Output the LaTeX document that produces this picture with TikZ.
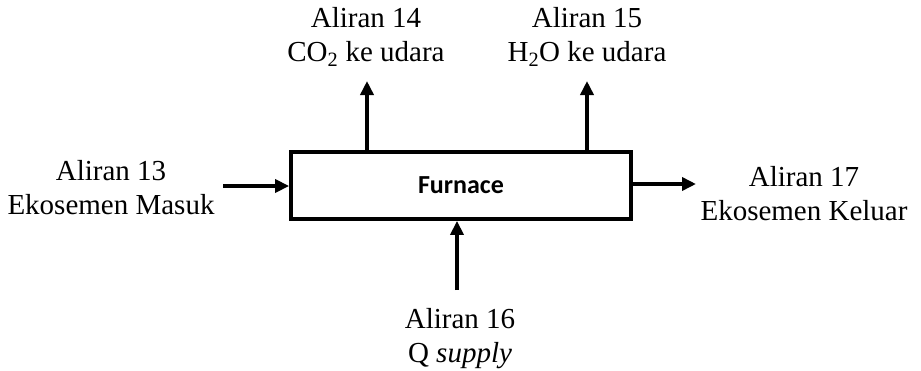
\documentclass[tikz,border=0pt]{standalone}
\usepackage{fontspec}
\setmainfont{Liberation Serif}
\newfontfamily\boxfont{Carlito}
\usetikzlibrary{arrows.meta}
\begin{document}
\begin{tikzpicture}[x=1pt,y=-1pt,
  lbl/.style={align=center,inner sep=0pt,font=\fontsize{29}{34}\selectfont},
  flow/.style={line width=3.6pt,-{Triangle[length=14pt,width=13pt]}},
  unit/.style={draw,line width=3.8pt,minimum width=340pt,minimum height=67pt,inner sep=0pt,font=\boxfont\bfseries\fontsize{26}{30}\selectfont}]
\useasboundingbox (0,0) rectangle (921,370);
\node[unit] (f) at (461,185.5) {Furnace};
\node[lbl] (l13) at (111,188) {Aliran 13\\Ekosemen Masuk};
\node[lbl] (l14) at (366,37) {Aliran 14\\CO\textsubscript{2} ke udara};
\node[lbl] (l15) at (587,37) {Aliran 15\\H\textsubscript{2}O ke udara};
\node[lbl] (l16) at (460,339) {Aliran 16\\Q \textit{supply}};
\node[lbl] (l17) at (804,194) {Aliran 17\\Ekosemen Keluar};
\coordinate (a13) at (223,186);
\coordinate (a14) at (367,81);
\coordinate (a15) at (587,81);
\coordinate (a16) at (457,290);
\coordinate (a17) at (696,184);
\draw[flow] (a13) -- (a13 -| f.west);
\draw[flow] (a14 |- f.north) -- (a14);
\draw[flow] (a15 |- f.north) -- (a15);
\draw[flow] (a16) -- (a16 |- f.south);
\draw[flow] (a17 -| f.east) -- (a17);
\end{tikzpicture}
\end{document}
